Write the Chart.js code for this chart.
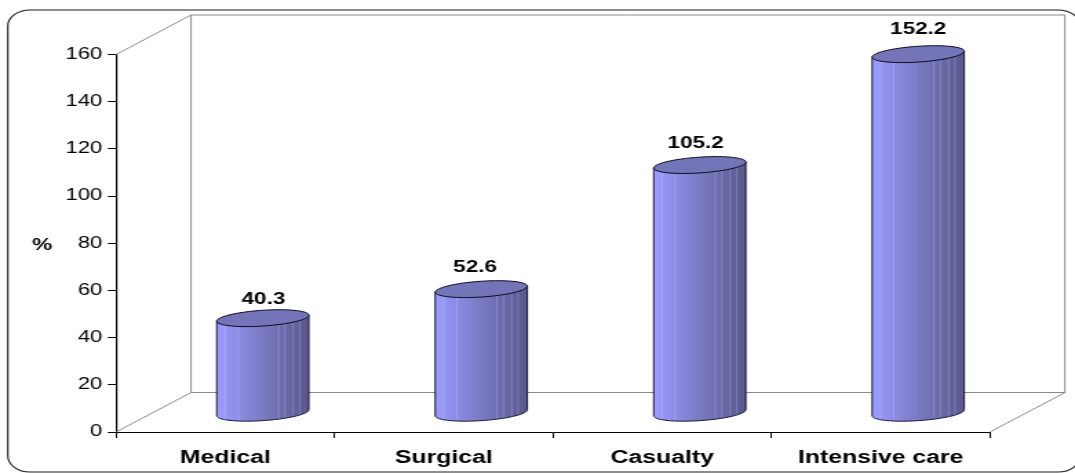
<!DOCTYPE html>
<html><head><meta charset="utf-8">
<style>
html,body{margin:0;padding:0;background:#fff;overflow:hidden;width:1075px;height:473px}
#c{position:absolute;left:0;top:0;transform-origin:0 0;transform:scaleX(1.37821)}
</style>
<script src="https://cdn.jsdelivr.net/npm/chart.js@4"></script>
</head><body>
<canvas id="c" width="780" height="473"></canvas>
<script>
const categories = ['Medical','Surgical','Casualty','Intensive care'];
const values = [40.3,52.6,105.2,152.2];
const yTicks = {min:0,max:160,step:20};
const yTitle = '%';
const FONT = '"Liberation Sans", Arial, sans-serif';
// pseudo-3D depth of the box
const DX = 54.4, DY = 39.5;
const labelNudge = [[0.5,-19],[-4.5,-22],[-3,-22],[0,-25]];
const stripes = [.09,.235,.67,.74,.83,.9];

function ellipsePath(ctx,cx,cy,rx,from,to){
  const n=60;
  for(let i=0;i<=n;i++){
    const t=from+(to-from)*i/n;
    const x=cx+rx*Math.cos(t), y=cy-3*Math.cos(t)+7.9*Math.sin(t);
    ctx.lineTo(x,y);
  }
}
function bodyPath(ctx,cx,top,base,rx){
  ctx.beginPath();
  ctx.moveTo(cx-rx,top+3);
  ctx.lineTo(cx-rx,base+3);
  ellipsePath(ctx,cx,base,rx,Math.PI,0);
  ctx.lineTo(cx+rx,top-3);
  ctx.closePath();
}
const box3d = {
  id:'box3d',
  beforeDatasetsDraw(chart){
    const {ctx,chartArea:a}=chart;
    ctx.save();
    ctx.strokeStyle='#8a8a8a';ctx.lineWidth=1;
    ctx.beginPath();
    ctx.moveTo(a.left,a.top);ctx.lineTo(a.left+DX,a.top-DY);
    ctx.lineTo(a.right+DX,a.top-DY);ctx.lineTo(a.right+DX,a.bottom-DY);
    ctx.lineTo(a.left+DX,a.bottom-DY);ctx.lineTo(a.left+DX,a.top-DY);
    ctx.moveTo(a.left,a.bottom);ctx.lineTo(a.left+DX,a.bottom-DY);
    ctx.moveTo(a.right,a.bottom);ctx.lineTo(a.right+DX,a.bottom-DY);
    ctx.stroke();
    ctx.restore();
  },
  afterDatasetsDraw(chart){
    const {ctx}=chart;
    const meta=chart.getDatasetMeta(0);
    meta.data.forEach((bar,i)=>{
      const cx=bar.x+DX/2, top=bar.y-DY/2+1, base=bar.base-DY/2+1, rx=bar.width/2;
      ctx.save();
      // cylinder body
      bodyPath(ctx,cx,top,base,rx);
      const g=ctx.createLinearGradient(cx-rx,0,cx+rx,0);
      g.addColorStop(0,'#9c9cff');g.addColorStop(.5,'#7a7ac4');g.addColorStop(1,'#58588c');
      ctx.fillStyle=g;ctx.fill();
      ctx.save();ctx.clip();
      ctx.strokeStyle='rgba(215,215,255,.38)';ctx.lineWidth=.7;
      stripes.forEach(f=>{const x=cx-rx+2*rx*f;ctx.beginPath();ctx.moveTo(x,top-12);ctx.lineTo(x,base+12);ctx.stroke();});
      ctx.restore();
      bodyPath(ctx,cx,top,base,rx);
      ctx.strokeStyle='#14142e';ctx.lineWidth=1;ctx.stroke();
      // top ellipse
      ctx.beginPath();
      ellipsePath(ctx,cx,top,rx,0,Math.PI*2);
      ctx.closePath();
      ctx.fillStyle='#7474b8';ctx.fill();
      ctx.strokeStyle='#0c0c1e';ctx.stroke();
      // value label
      ctx.fillStyle='#000';ctx.font='bold 16.3px '+FONT;
      ctx.textAlign='center';ctx.textBaseline='middle';
      ctx.fillText(values[i].toFixed(1),cx+labelNudge[i][0],top+labelNudge[i][1]);
      ctx.restore();
    });
  },
  afterDraw(chart){
    const {ctx,chartArea:a}=chart;
    ctx.save();
    ctx.fillStyle='#000';ctx.font='bold 16.5px '+FONT;
    ctx.textAlign='center';ctx.textBaseline='middle';
    ctx.fillText(yTitle,30.5,(a.top+a.bottom)/2+2.5);
    // outer rounded frame
    ctx.strokeStyle='#1c1c1c';ctx.lineWidth=1.1;
    ctx.beginPath();
    ctx.roundRect(5.7,10,778,462,16);
    ctx.stroke();
    ctx.restore();
  }
};
new Chart(document.getElementById('c'),{
  type:'bar',
  data:{labels:categories,datasets:[{data:values,backgroundColor:'rgba(0,0,0,0)',borderWidth:0,
    categoryPercentage:1,barPercentage:.4215}]},
  plugins:[box3d],
  options:{
    responsive:false,animation:false,devicePixelRatio:1,
    layout:{padding:{left:0,right:61.7,top:54.5,bottom:0}},
    plugins:{legend:{display:false},tooltip:{enabled:false},title:{display:false}},
    scales:{
      x:{
        afterFit(s){s.height=41;s.paddingLeft=0;s.paddingRight=0;},
        border:{color:'#000',width:1},
        grid:{drawOnChartArea:false,color:'#000',tickLength:6,offset:true},
        ticks:{color:'#000',font:{family:FONT,size:18,weight:'bold'},padding:9,maxRotation:0}
      },
      y:{
        min:yTicks.min,max:yTicks.max,
        afterFit(s){s.width=84.2;s.paddingTop=0;s.paddingBottom=0;},
        border:{color:'#000',width:1.2},
        grid:{drawOnChartArea:false,color:'#000',tickLength:6},
        ticks:{stepSize:yTicks.step,color:'#000',font:{family:FONT,size:16},padding:4}
      }
    }
  }
});
</script>
</body></html>
